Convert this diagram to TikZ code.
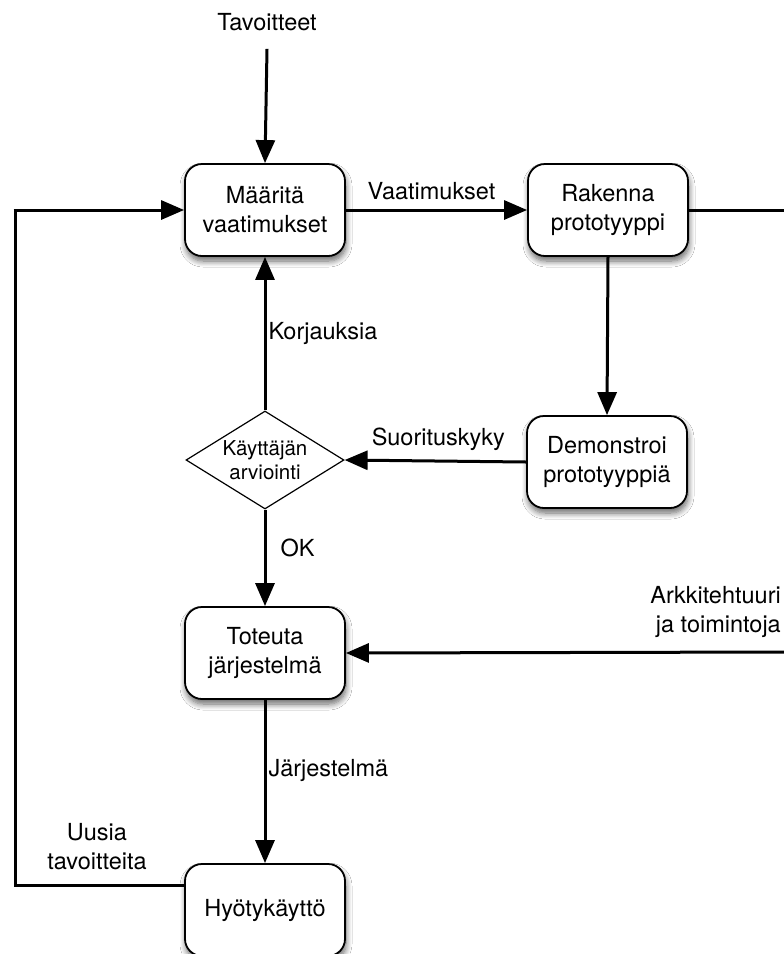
\documentclass[tikz,border=0pt]{standalone}
\usepackage{fontspec}
\setmainfont{TeX Gyre Heros}
\usetikzlibrary{shapes.geometric,arrows.meta,shadows.blur}
\begin{document}
\begin{tikzpicture}[x=1pt,y=-1pt,
  box/.style={draw=black,line width=1.8pt,fill=white,rounded corners=17pt,
    minimum width=160pt,minimum height=92pt,align=center,inner sep=0pt,
    font=\fontsize{23.5}{29}\selectfont,
    blur shadow={shadow xshift=1pt,shadow yshift=-5pt,shadow blur steps=8,shadow blur radius=6pt,shadow opacity=60}},
  dia/.style={draw=black,line width=1.2pt,fill=white,diamond,aspect=1.6,
    minimum width=158pt,minimum height=98pt,inner sep=0pt,align=center,
    font=\fontsize{20.5}{23.5}\selectfont},
  lbl/.style={font=\fontsize{23.5}{29}\selectfont,inner sep=0pt,align=center},
  conn/.style={line width=3pt},
  arr/.style={line width=3pt,-{Triangle[length=23pt,width=19pt]}}
]
\useasboundingbox (0,0) rectangle (784,954);
\fill[white] (0,0) rectangle (784,954);

\node[lbl] (tav) at (267,22) {Tavoitteet};
\node[box] (maar) at (265,210) {Määritä\\vaatimukset};
\node[box] (rak) at (608,210) {Rakenna\\prototyyppi};
\node[box] (demo) at (607,462) {Demonstroi\\prototyyppiä};
\node[dia] (diam) at (265,460) {Käyttäjän\\arviointi};
\node[box] (tot) at (265,653) {Toteuta\\järjestelmä};
\node[box] (hyo) at (265,910) {Hyötykäyttö};

\coordinate (rE) at (786,210);
\coordinate (aE) at (786,652);
\coordinate (cBL) at (15,885);
\coordinate (cTL) at (15,210);

\draw[arr] ([yshift=-18pt]tav.south) -- (maar.north);
\draw[arr] (maar.east) -- node[lbl,above=9pt,xshift=-5pt]{Vaatimukset} (rak.west);
\draw[conn] (rak.east) -- (rE);
\draw[arr] (rak.south) -- (demo.north);
\draw[arr] (demo.west) -- node[lbl,above=9pt,xshift=3pt]{Suorituskyky} (diam.east);
\draw[arr] (diam.north) -- node[lbl,right=2pt,pos=0.5]{Korjauksia} (maar.south);
\draw[arr] (diam.south) -- node[lbl,right=14pt,pos=0.4]{OK} (tot.north);
\draw[arr] (aE) -- (tot.east);
\node[lbl,anchor=east,align=right] (ark) at (781,612) {Arkkitehtuuri\\ja toimintoja};
\draw[arr] (tot.south) -- node[lbl,right=2pt,pos=0.43]{Järjestelmä} (hyo.north);
\draw[conn] ([yshift=25pt]hyo.west) -- (cBL) -- (cTL);
\draw[arr] ([xshift=-1.5pt]cTL) -- (maar.west);
\node[lbl] (uus) at (97,847) {Uusia\\tavoitteita};
\end{tikzpicture}
\end{document}
